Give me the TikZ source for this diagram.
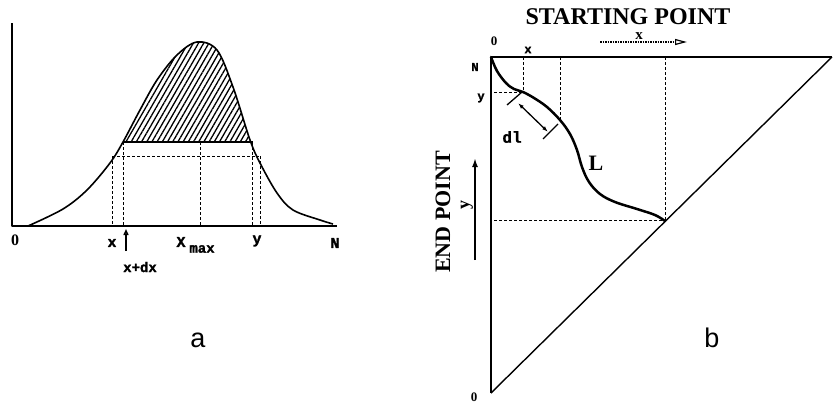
\documentclass[tikz,border=0pt]{standalone}
\usepackage{fontspec}
\setmainfont{Liberation Serif}
\setsansfont{Liberation Sans}
\setmonofont{Liberation Mono}
\newfontfamily\heavytt{Liberation Mono Bold}[FakeBold=1.6]
\usetikzlibrary{arrows.meta,patterns.meta}

\begin{document}
\begin{tikzpicture}[x=1pt,y=-1pt,>=Latex,line join=round,
  tlab/.style={font=\heavytt\fontsize{15}{15}\selectfont,inner sep=0pt},
  slab/.style={font=\heavytt\fontsize{12}{12}\selectfont,inner sep=0pt},
  zlab/.style={font=\rmfamily\bfseries\fontsize{#1}{#1}\selectfont,inner sep=0pt},
  rlab/.style={font=\rmfamily\bfseries\fontsize{#1}{#1}\selectfont,inner sep=0pt},
  guide/.style={dash pattern=on 3pt off 2pt,line width=1pt},
  panel/.style={font=\sffamily\fontsize{27}{27}\selectfont,inner sep=0pt,anchor=base}]
  \useasboundingbox (0,0) rectangle (833,405);

  % ---- panel a: distribution --------------------------------------------
  \coordinate (aT) at (12,23);    % axis top
  \coordinate (aO) at (12,226);   % origin
  \coordinate (aE) at (337,226);  % axis end
  \draw[line width=1.6pt] (aT) -- (aO) -- (aE);

  % hatched cap above the level line
  \begin{scope}
    \clip (123,0) rectangle (253,142);
    \fill[pattern={Lines[angle=60,distance=4.5pt,line width=1.3pt]}]
      plot[smooth,tension=0.55] coordinates {(28,226) (63,209) (87,190)
      (110,163) (123,142) (140,110) (157,80) (177,55) (197,42) (217,50)
      (233,87) (250,140) (260,163) (277,193) (293,210) (320,220) (333,224)};
  \end{scope}
  \draw[line width=1.6pt]
    plot[smooth,tension=0.55] coordinates {(28,226) (63,209) (87,190)
    (110,163) (123,142) (140,110) (157,80) (177,55) (197,42) (217,50)
    (233,87) (250,140) (260,163) (277,193) (293,210) (320,220) (333,224)};

  % level lines
  \draw[line width=1.3pt] (123,142) -- (253,142);
  \draw[guide] (112,156) -- (259,156);
  \draw[guide] (112,156) -- (112,226);
  \draw[guide] (123,142) -- (123,226);
  \draw[guide] (200,142) -- (200,226);
  \draw[guide] (252,142) -- (252,226);
  \draw[guide] (260,156) -- (260,226);

  % axis labels
  \node[zlab=16] (a0) at (15,240) {0};
  \node[tlab] (ax) at (112,243) {x};
  \node[tlab] (aX) at (181,242) {X};
  \node[tlab,font=\heavytt\fontsize{14}{14}\selectfont] (amax) at (202,249) {max};
  \node[tlab] (ay) at (257,241) {y};
  \node[tlab] (aN) at (335,243) {N};
  \node[tlab,font=\heavytt\fontsize{14}{14}\selectfont] (adx) at (140,267) {x+dx};
  \coordinate (dxtail) at (126,251);
  \coordinate (dxtip)  at (126,229);
  \draw[line width=1.4pt,-{Triangle[open,length=6pt,width=5pt]}] (dxtail) -- (dxtip);

  \node[panel] (pa) at (198,347) {a};

  % ---- panel b: path in the (x,y) triangle ------------------------------
  \coordinate (bO) at (491,393);  % bottom corner
  \coordinate (bN) at (491,57);   % top left corner
  \coordinate (bR) at (832,57);   % top right corner
  \draw[line width=2pt] (bN) -- (bO);
  \draw[line width=1.1pt] (bN) -- (bR);
  \draw[line width=1.4pt] (bO) -- (bR);

  % the path L
  \draw[line width=2.5pt,line cap=round]
    plot[smooth,tension=0.6] coordinates {(491,57) (497,71) (506,83)
    (514,89) (523,92) (534,98) (547,107) (560,120) (570,134) (577,150)
    (582,167) (589,182) (600,194) (615,202) (637,209) (655,215) (665,221)};

  % projections
  \draw[guide] (523,57) -- (523,92);
  \draw[guide] (560,57) -- (560,120);
  \draw[guide] (665,57) -- (665,220);
  \draw[guide] (494,92) -- (523,92);
  \draw[guide] (494,220) -- (665,220);

  % element dl
  \draw[line width=1.3pt] (522,92) -- (507,105);
  \draw[line width=1.3pt] (558,124) -- (543,139);
  \coordinate (dlA) at (518,103);
  \coordinate (dlB) at (548,132);
  \draw[{Latex[length=6pt,width=4pt]}-{Latex[length=6pt,width=4pt]},line width=1.3pt] (dlA) -- (dlB);

  % labels
  \node[rlab=24,anchor=base] (start) at (628,24) {STARTING POINT};
  \node[rlab=15] (sx) at (639,36) {x};
  \coordinate (sxA) at (600,42);
  \coordinate (sxB) at (687,42);
  \draw[line width=1.2pt,dash pattern=on 1.5pt off 1pt,
        -{Triangle[open,length=12pt,width=6pt]}] (sxA) -- (sxB);
  \node[zlab=13] (b0) at (494,41) {0};
  \node[slab] (bx) at (528,50) {x};
  \node[slab] (bn) at (475,67) {N};
  \node[slab] (by) at (481,98) {y};
  \node[tlab,font=\heavytt\fontsize{16}{16}\selectfont] (dl) at (512,137) {dl};
  \node[rlab=22] (L) at (596,163) {L};
  \node[rlab=22,rotate=90] (endp) at (443,212) {END POINT};
  \node[rlab=18,rotate=90] (ey) at (467,205) {y};
  \coordinate (eyA) at (475,260);
  \coordinate (eyB) at (475,158);
  \draw[line width=2.2pt,-{Latex[length=9pt,width=6pt]}] (eyA) -- (eyB);
  \node[zlab=13] (b00) at (474,397) {0};

  \node[panel] (pb) at (712,347) {b};
\end{tikzpicture}
\end{document}
